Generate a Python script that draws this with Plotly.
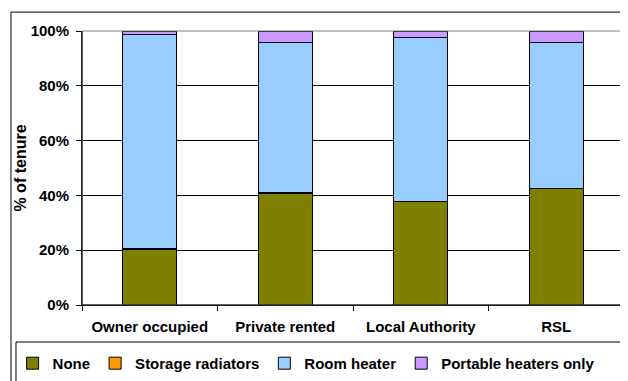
import plotly.graph_objects as go

# tenure categories and heating shares (% of tenure)
tenures = ['Owner occupied', 'Private rented', 'Local Authority', 'RSL']
none_pct = [20.1, 40.8, 37.7, 42.6]
storage_pct = [0.4, 0.4, 0.1, 0.1]
room_pct = [78.3, 54.7, 59.8, 53.2]
portable_pct = [1.2, 4.1, 2.4, 4.1]

series = [
    ('None', none_pct, '#808000'),
    ('Storage radiators', storage_pct, '#FF9900'),
    ('Room heater', room_pct, '#99CCFF'),
    ('Portable heaters only', portable_pct, '#CC99FF'),
]

FONT = 'Arial, Liberation Sans, sans-serif'

fig = go.Figure()
for name, vals, col in series:
    fig.add_trace(go.Bar(
        x=tenures,
        y=[v / 100 for v in vals],
        name=name,
        marker=dict(color=col, line=dict(color='#000000', width=1)),
    ))

# page body has an 8px margin, so the figure is sized to fill what is left
fig.update_layout(
    barmode='stack',
    bargap=0.6,
    width=620,
    height=373,
    margin=dict(l=74, r=4, t=23, b=76, autoexpand=False),
    paper_bgcolor='white',
    plot_bgcolor='white',
    font=dict(family=FONT, size=15, color='#000000', weight='bold'),
    showlegend=True,
    legend=dict(
        orientation='h',
        x=-0.128, xanchor='left',
        y=-0.153, yanchor='top',
        font=dict(family=FONT, size=15, color='#000000', weight='bold'),
        borderwidth=0,
        bgcolor='rgba(0,0,0,0)',
        itemwidth=30,
        traceorder='normal',
    ),
)

fig.update_yaxes(
    range=[0, 1],
    tickvals=[0, 0.2, 0.4, 0.6, 0.8, 1.0],
    tickformat='.0%',
    showgrid=True, gridcolor='#000000', gridwidth=1,
    showline=True, linecolor='#000000', linewidth=1,
    ticks='outside', ticklen=5, tickcolor='#000000',
    ticklabelstandoff=4,
    title=dict(text='% of tenure', font=dict(size=16, weight='bold'), standoff=0),
    zeroline=False,
)
fig.update_xaxes(
    showline=True, linecolor='#000000', linewidth=1,
    ticks='outside', ticklen=5, tickcolor='#000000',
    tickson='boundaries',
    ticklabelstandoff=8,
    showgrid=False,
)

# grey plot-area border (top and right)
fig.add_shape(type='rect', xref='paper', yref='paper', x0=0, x1=1, y0=0, y1=1,
              line=dict(color='#808080', width=1), layer='above')
fig.add_shape(type='line', xref='paper', yref='paper', x0=0, x1=0, y0=0, y1=1,
              line=dict(color='#000000', width=1), layer='above')
fig.add_shape(type='line', xref='paper', yref='paper', x0=0, x1=1, y0=0, y1=0,
              line=dict(color='#000000', width=1), layer='above')
# outer chart frame
fig.add_shape(type='rect', xref='paper', yref='paper',
              x0=-0.131, x1=1.005, y0=-0.3, y1=1.069,
              line=dict(color='#000000', width=1), layer='below')
# legend box, running off the bottom edge like the original
fig.add_shape(type='rect', xref='paper', yref='paper',
              x0=-0.1218, x1=0.9945, y0=-0.3, y1=-0.135,
              line=dict(color='#000000', width=1), layer='below')

fig.write_html('out.html')
